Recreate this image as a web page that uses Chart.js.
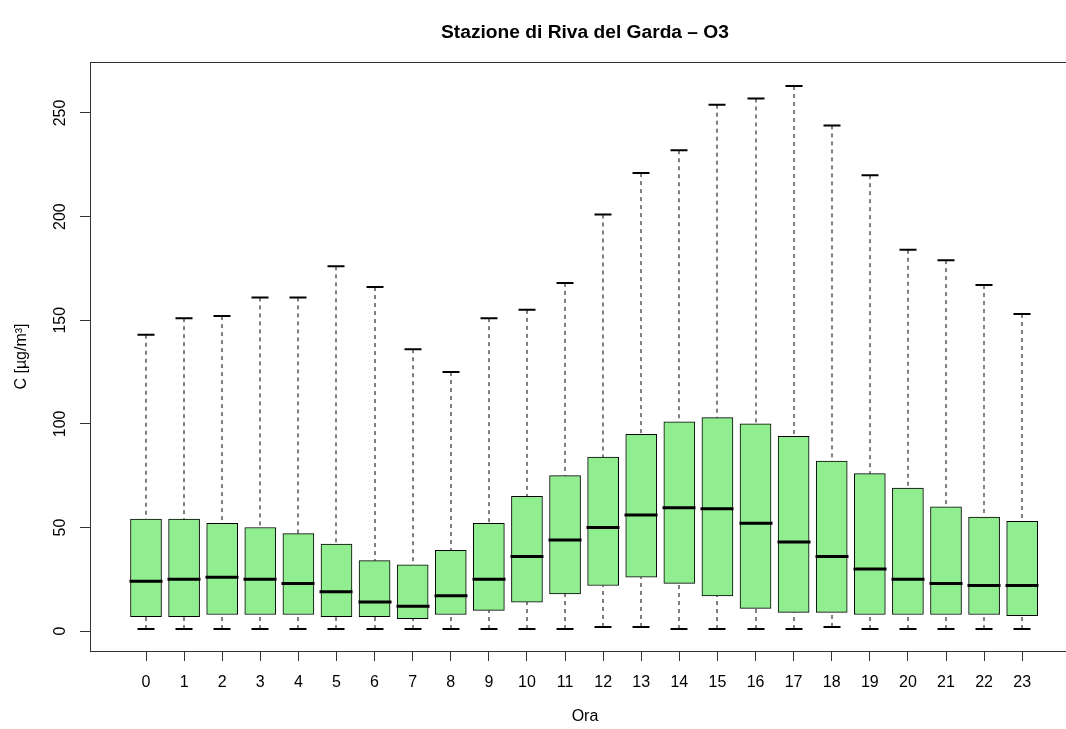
<!DOCTYPE html>
<html>
<head>
<meta charset="utf-8">
<title>Stazione di Riva del Garda – O3</title>
<script src="https://cdn.jsdelivr.net/npm/chart.js@4.4.0/dist/chart.umd.min.js"></script>
<style>
  html, body { margin: 0; padding: 0; background: #fff; }
  canvas { display: block; }
</style>
</head>
<body>
<canvas id="chart" width="1066" height="729"></canvas>
<script>
// Hours of the day and box statistics (µg/m³)
const hours = ['0', '1', '2', '3', '4', '5', '6', '7', '8', '9', '10', '11',
  '12', '13', '14', '15', '16', '17', '18', '19', '20', '21', '22', '23'];
const whiskerLow = [1, 1, 1, 1, 1, 1, 1, 1, 1, 1, 1, 1, 2, 2, 1, 1, 1, 1, 2, 1, 1, 1, 1, 1];
const q1 = [7, 7, 8, 8, 8, 7, 7, 6, 8, 10, 14, 18, 22, 26, 23, 17, 11, 9, 9, 8, 8, 8, 8, 7.5];
const median = [24, 25, 26, 25, 23, 19, 14, 12, 17, 25, 36, 44, 50, 56, 59.5, 59, 52, 43, 36, 30, 25, 23, 22, 22];
const q3 = [54, 54, 52, 50, 47, 42, 34, 32, 39, 52, 65, 75, 84, 95, 101, 103, 100, 94, 82, 76, 69, 60, 55, 53];
const whiskerHigh = [143, 151, 152, 161, 161, 176, 166, 136, 125, 151, 155, 168,
  201, 221, 232, 254, 257, 263, 244, 220, 184, 179, 167, 153];
const yTicks = [0, 50, 100, 150, 200, 250];

const FONT = '"Liberation Sans", Arial, Helvetica, sans-serif';

// whiskers, caps, medians, frame and the R-style texts
const boxExtras = {
  id: 'boxExtras',
  afterDatasetsDraw(chart) {
    const { ctx, scales: { x, y } } = chart;
    ctx.save();
    hours.forEach((h, i) => {
      const cx = Math.round(x.getPixelForValue(i));
      ctx.strokeStyle = '#000';
      ctx.lineWidth = 1;
      ctx.setLineDash([4, 4]);
      ctx.beginPath();
      ctx.moveTo(cx, y.getPixelForValue(whiskerHigh[i]));
      ctx.lineTo(cx, y.getPixelForValue(q3[i]));
      ctx.moveTo(cx, y.getPixelForValue(whiskerLow[i]));
      ctx.lineTo(cx, y.getPixelForValue(q1[i]));
      ctx.stroke();
      ctx.setLineDash([]);

      ctx.lineWidth = 2;
      ctx.beginPath();
      [whiskerHigh[i], whiskerLow[i]].forEach(v => {
        const py = y.getPixelForValue(v);
        ctx.moveTo(cx - 8.5, py);
        ctx.lineTo(cx + 8.5, py);
      });
      ctx.stroke();

      ctx.lineWidth = 3;
      ctx.beginPath();
      const my = y.getPixelForValue(median[i]);
      ctx.moveTo(cx - 16.5, my);
      ctx.lineTo(cx + 16.5, my);
      ctx.stroke();
    });
    ctx.restore();
  },
  afterDraw(chart) {
    const { ctx, chartArea: a, scales: { y } } = chart;
    ctx.save();
    ctx.strokeStyle = '#333';
    ctx.lineWidth = 1;
    ctx.strokeRect(a.left + 0.5, a.top + 0.5, a.right - a.left, a.bottom - a.top);

    ctx.fillStyle = '#000';
    ctx.textAlign = 'center';
    ctx.textBaseline = 'middle';
    ctx.font = 'bold 19.2px ' + FONT;
    ctx.fillText('Stazione di Riva del Garda – O3', 585, 33);
    ctx.font = '16px ' + FONT;
    ctx.fillText('Ora', 585, 717);

    yTicks.forEach(v => {
      ctx.save();
      ctx.translate(61, y.getPixelForValue(v));
      ctx.rotate(-Math.PI / 2);
      ctx.fillText(String(v), 0, 0);
      ctx.restore();
    });
    ctx.save();
    ctx.translate(22, (a.top + a.bottom) / 2);
    ctx.rotate(-Math.PI / 2);
    ctx.fillText('C [µg/m³]', 0, 0);
    ctx.restore();
    ctx.restore();
  }
};

const ctx = document.getElementById('chart').getContext('2d');
const chart = new Chart(ctx, {
  type: 'bar',
  data: {
    datasets: [{
      data: hours.map((h, i) => ({ x: i, y: [q1[i], q3[i]] })),
      backgroundColor: '#90ee90',
      borderColor: '#000',
      borderWidth: 1,
      borderSkipped: false,
      barThickness: 31
    }]
  },
  options: {
    responsive: false,
    animation: false,
    events: [],
    layout: { padding: { top: 62, left: 0, right: 0, bottom: 0 } },
    plugins: { legend: { display: false }, tooltip: { enabled: false } },
    scales: {
      x: {
        type: 'linear',
        offset: false,
        min: -1.47,
        max: 24.15,
        afterBuildTicks: s => { s.ticks = hours.map((h, i) => ({ value: i })); },
        afterFit: s => { s.height = 78; },
        border: { display: false },
        grid: { offset: false, drawOnChartArea: false, drawTicks: true, tickLength: 10, color: '#333' },
        ticks: {
          autoSkip: false,
          maxRotation: 0,
          padding: 12,
          color: '#000',
          font: { family: FONT, size: 16 },
          callback: (v) => hours[v]
        }
      },
      y: {
        min: -9.6,
        max: 274.6,
        afterBuildTicks: s => { s.ticks = yTicks.map(v => ({ value: v })); },
        afterFit: s => { s.width = 90; },
        border: { display: false },
        grid: { drawOnChartArea: false, drawTicks: true, tickLength: 10, color: '#333' },
        ticks: { display: false }
      }
    }
  },
  plugins: [boxExtras]
});
</script>
</body>
</html>
